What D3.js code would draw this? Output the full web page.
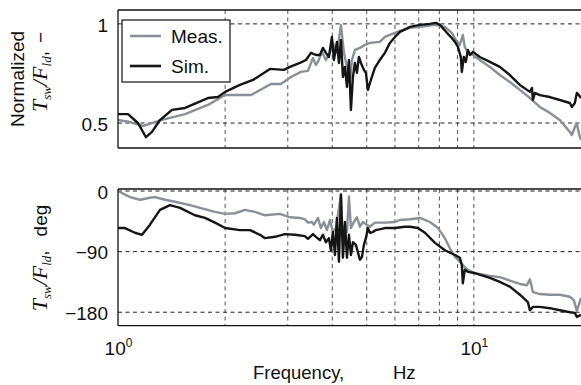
<!DOCTYPE html>
<html><head><meta charset="utf-8">
<script src="https://cdn.jsdelivr.net/npm/d3@7"></script>
<style>
body{margin:0;background:#fff}
svg text{font-family:"Liberation Sans",Arial,sans-serif;fill:#111}
</style>
</head><body>
<svg id="c" width="581" height="385"></svg>
<script>
// ---- data (frequency in Hz) ----
const magMeasFreq=[1.0,1.081,1.176,1.321,1.543,1.789,2.0,2.364,2.691,2.869,3.062,3.267,3.418,3.531,3.599,3.646,3.741,3.839,3.94,4.017,4.123,4.231,4.314,4.399,4.485,4.543,4.632,4.784,4.941,5.103,5.443,5.623,6.001,6.199,6.616,7.053,7.776,8.29,8.67,8.9,9.13,9.31,9.43,9.62,9.94,10.39,11.09,11.83,12.62,13.47,14.37,15.32,16.35,17.44,18.61,18.85,19.22,19.47,19.72,20.0];
const magMeas=[0.515,0.505,0.485,0.515,0.545,0.591,0.641,0.641,0.697,0.697,0.732,0.758,0.763,0.828,0.793,0.808,0.859,0.818,0.854,0.904,0.854,0.995,0.854,0.783,0.702,0.818,0.869,0.879,0.894,0.904,0.909,0.934,0.955,0.965,0.98,0.985,0.995,0.985,0.955,0.919,0.894,0.944,0.884,0.854,0.843,0.818,0.783,0.742,0.707,0.667,0.626,0.581,0.551,0.515,0.455,0.439,0.48,0.5,0.449,0.414];

const magSimFreq=[1.0,1.067,1.138,1.198,1.246,1.312,1.418,1.543,1.789,1.91,2.0,2.201,2.395,2.673,2.926,3.042,3.245,3.375,3.485,3.599,3.693,3.765,3.839,3.914,3.991,4.043,4.123,4.177,4.231,4.286,4.342,4.399,4.456,4.514,4.572,4.632,4.692,4.753,4.815,4.909,4.973,5.038,5.136,5.27,5.443,5.623,5.809,6.001,6.199,6.616,7.053,7.527,7.826,8.03,8.4,8.67,8.85,9.02,9.19,9.25,9.37,9.49,9.62,9.75,9.94,10.39,11.09,11.83,12.62,13.47,14.37,14.56,14.65,14.84,15.32,16.35,17.44,18.61,18.85,19.22,19.47,19.72,20.0];
const magSim=[0.545,0.545,0.5,0.429,0.455,0.515,0.566,0.576,0.626,0.631,0.657,0.692,0.717,0.773,0.768,0.783,0.803,0.818,0.854,0.843,0.843,0.879,0.854,0.833,0.934,0.818,0.909,0.803,0.919,0.732,0.783,0.682,0.818,0.566,0.732,0.803,0.753,0.833,0.803,0.768,0.753,0.667,0.717,0.778,0.818,0.854,0.904,0.934,0.96,0.985,0.995,1.0,1.005,0.995,0.955,0.929,0.909,0.884,0.833,0.758,0.833,0.808,0.869,0.843,0.859,0.833,0.808,0.783,0.742,0.692,0.657,0.677,0.616,0.652,0.641,0.631,0.616,0.601,0.581,0.601,0.652,0.641,0.626];

const phMeasFreq=[1.0,1.081,1.153,1.23,1.27,1.355,1.446,1.593,1.7,1.873,2.0,2.132,2.274,2.426,2.588,2.851,3.042,3.245,3.352,3.418,3.508,3.553,3.646,3.717,3.79,3.864,3.94,4.017,4.096,4.177,4.231,4.286,4.342,4.399,4.456,4.514,4.602,4.692,4.784,4.877,5.005,5.103,5.27,5.623,6.001,6.199,6.616,7.053,7.527,7.927,8.29,8.56,8.85,9.13,9.43,9.62,10.06,11.09,11.83,12.62,13.47,14.09,14.37,14.65,15.32,16.35,17.44,18.61,19.09,19.47,20.0];
const phMeas=[0,-9,-13,-10,-9,-13,-16,-21,-25,-31,-34,-33,-28,-31,-36,-34,-39,-40,-42,-47,-46,-50,-40,-55,-46,-58,-43,-61,-55,-25,-6,-76,-50,-61,-8,-55,-46,-39,-53,-46,-50,-53,-47,-47,-46,-43,-42,-40,-46,-55,-70,-85,-98,-105,-113,-117,-122,-126,-128,-133,-138,-140,-131,-150,-153,-154,-154,-157,-162,-178,-159];

const phSimFreq=[1.0,1.046,1.116,1.168,1.23,1.312,1.4,1.494,1.645,1.755,1.873,2.0,2.201,2.349,2.506,2.588,2.761,2.945,3.141,3.352,3.418,3.531,3.599,3.693,3.765,3.839,3.914,3.965,4.017,4.07,4.123,4.177,4.231,4.286,4.342,4.399,4.456,4.514,4.572,4.662,4.722,4.784,4.846,4.909,4.973,5.038,5.103,5.203,5.304,5.623,6.001,6.404,6.616,6.963,7.286,7.776,8.29,8.85,9.13,9.25,9.31,9.43,9.62,10.06,11.09,11.83,12.62,13.47,14.18,14.37,14.65,15.32,16.35,17.44,18.61,19.22,19.47,20.0];
const phSim=[-55,-55,-62,-65,-50,-28,-21,-25,-36,-40,-47,-55,-58,-58,-65,-70,-68,-64,-65,-67,-71,-64,-68,-73,-65,-76,-70,-88,-61,-95,-40,-105,-5,-99,-46,-99,-65,-95,-76,-80,-91,-102,-98,-80,-70,-55,-62,-61,-58,-55,-55,-53,-53,-55,-62,-77,-88,-95,-99,-110,-137,-117,-120,-122,-129,-135,-142,-154,-165,-177,-172,-172,-174,-177,-180,-181,-187,-184];

const magTicks=[0.5,1];
const phTicks=[-180,-90,0];
const xMajor=[1,10];
const xGrid=[2,3,4,5,6,7,8,9,10];
const legendLabels=["Meas.","Sim."];

const GRAY="#899097", BLACK="#151515";

const svg=d3.select("#c");
svg.append("rect").attr("width",581).attr("height",385).attr("fill","#fff");

const L=118, R=582;
const x=d3.scaleLog().domain([1,20]).range([L,581]);

const panels=[
 {top:10,bottom:148,y:d3.scaleLinear().domain([0.374,1.07]).range([148,10]),ticks:magTicks,fmt:d=>d===1?"1":"0.5",
  series:[[magMeasFreq,magMeas,GRAY],[magSimFreq,magSim,BLACK]]},
 {top:189,bottom:325.7,y:d3.scaleLinear().domain([-200,3]).range([325.7,189]),ticks:phTicks,fmt:d=>d3.format("")(d),
  series:[[phMeasFreq,phMeas,GRAY],[phSimFreq,phSim,BLACK]]}
];

panels.forEach((p,i)=>{
  const g=svg.append("g");
  const cid="clip"+i;
  svg.append("clipPath").attr("id",cid).append("rect").attr("x",L).attr("y",p.top).attr("width",R-L).attr("height",p.bottom-p.top);
  g.selectAll(".vg").data(xGrid).join("line")
   .attr("x1",d=>x(d)).attr("x2",d=>x(d)).attr("y1",p.top).attr("y2",p.bottom)
   .attr("stroke","#555").attr("stroke-width",1).attr("stroke-dasharray","4,3.5");
  g.selectAll(".hg").data(p.ticks).join("line")
   .attr("x1",L).attr("x2",R).attr("y1",d=>p.y(d)).attr("y2",d=>p.y(d))
   .attr("stroke","#222").attr("stroke-width",1).attr("stroke-dasharray","4,3.5");
  const line=d3.line().x(d=>x(d[0])).y(d=>p.y(d[1]));
  p.series.forEach(([fs,vs,col])=>{
    g.append("path").attr("clip-path",`url(#${cid})`)
     .datum(fs.map((f,k)=>[f,vs[k]]))
     .attr("d",line).attr("fill","none").attr("stroke",col).attr("stroke-width",2.4).attr("stroke-linejoin","round");
  });
  g.append("line").attr("x1",L).attr("x2",R).attr("y1",p.top).attr("y2",p.top).attr("stroke","#111").attr("stroke-width",1.3);
  g.append("line").attr("x1",L).attr("x2",R).attr("y1",p.bottom).attr("y2",p.bottom).attr("stroke","#111").attr("stroke-width",1.3);
  const ya=svg.append("g").attr("transform",`translate(${L},0)`)
    .call(d3.axisLeft(p.y).tickValues(p.ticks).tickFormat(p.fmt).tickSize(0).tickPadding(10));
  ya.select(".domain").attr("d",`M0,${p.top}V${p.bottom}`).attr("stroke","#111").attr("stroke-width",1.3);
  ya.selectAll("text").attr("font-size",19).attr("font-family","Liberation Sans, Arial, sans-serif").attr("fill","#111").attr("dy","0.38em");
});

// x axis (bottom panel)
const xa=svg.append("g").attr("transform","translate(0,325.7)")
 .call(d3.axisBottom(x).tickValues(xMajor).tickSize(0).tickPadding(15.5));
xa.select(".domain").remove();
xa.selectAll("text").attr("font-size",19).attr("fill","#111").attr("font-family","Liberation Sans, Arial, sans-serif")
 .each(function(d){
   const t=d3.select(this); t.text("");
   t.append("tspan").text("10");
   t.append("tspan").attr("font-size",12).attr("dy","-8").text(String(Math.round(Math.log10(d))));
 });

// x label
const xl=svg.append("text").attr("y",379).attr("font-size",18.5).attr("fill","#111");
xl.append("tspan").attr("x",253).text("Frequency,");
xl.append("tspan").attr("x",393).text("Hz");

// y labels
svg.append("text").attr("transform","translate(24,79) rotate(-90)").attr("text-anchor","middle").attr("font-size",19).text("Normalized");
function mathLabel(cx,cy,tail,gap){
  const t=svg.append("text").attr("transform",`translate(${cx},${cy}) rotate(-90)`).attr("text-anchor","middle");
  const it='"Liberation Serif","Times New Roman",serif';
  t.append("tspan").attr("font-family",it).attr("font-style","italic").attr("font-size",22).text("T");
  t.append("tspan").attr("font-family",it).attr("font-style","italic").attr("font-size",13).attr("dy",4).text("sw");
  t.append("tspan").attr("font-family",it).attr("font-style","italic").attr("font-size",22).attr("dy",-4).text("/");
  t.append("tspan").attr("font-family",it).attr("font-style","italic").attr("font-size",22).text("F");
  t.append("tspan").attr("font-family",it).attr("font-style","italic").attr("font-size",13).attr("dy",4).text("ld");
  t.append("tspan").attr("font-size",19).attr("dy",-4).text(",");
  t.append("tspan").attr("font-size",19).attr("dx",gap).text(tail);
}
mathLabel(47,72,"\u2212",8);
mathLabel(47,258,"deg",14);

// legend
const lg=svg.append("g");
lg.append("rect").attr("x",122).attr("y",20).attr("width",108).attr("height",62).attr("fill","#fff").attr("stroke","#111").attr("stroke-width",1.2);
[[GRAY,36],[BLACK,66]].forEach(([c,yy],k)=>{
  lg.append("line").attr("x1",130).attr("x2",161).attr("y1",yy).attr("y2",yy).attr("stroke",c).attr("stroke-width",2.6);
  lg.append("text").attr("x",171).attr("y",yy+7).attr("font-size",19).text(legendLabels[k]);
});
</script>
</body></html>
